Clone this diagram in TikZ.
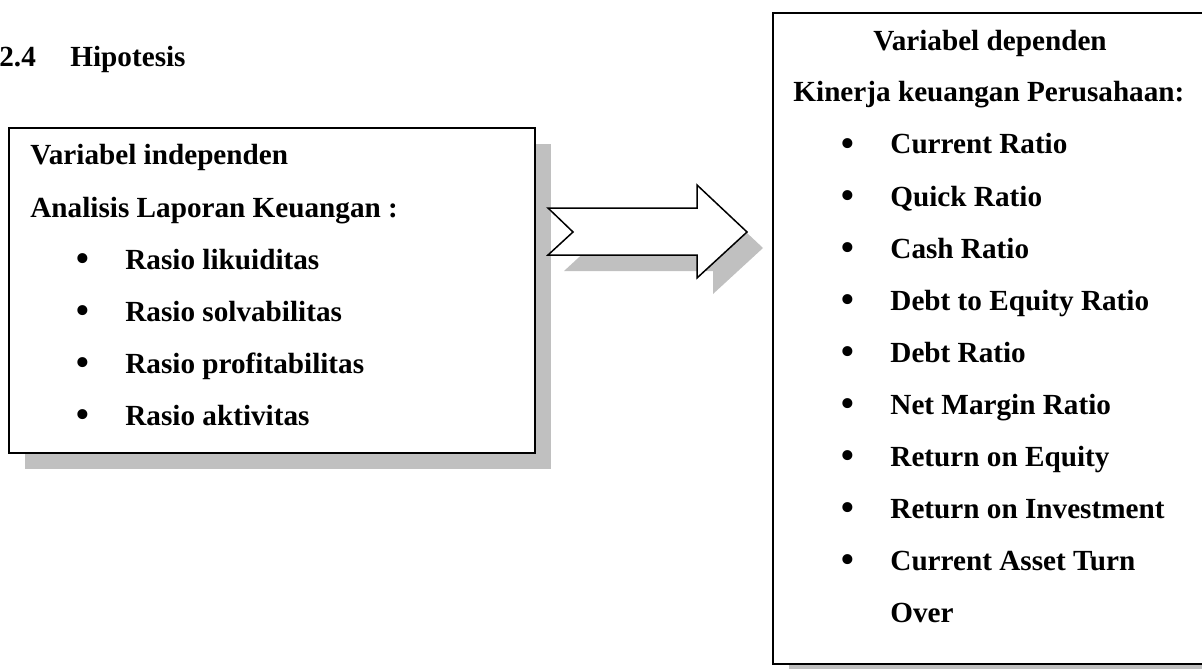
\documentclass[tikz,border=0pt]{standalone}
\usepackage{fontspec}
\setmainfont{Liberation Serif}
\usetikzlibrary{shadows}
\definecolor{shadowgray}{HTML}{C0C0C0}

\begin{document}
\begin{tikzpicture}[x=0.5pt, y=-0.5pt,
  every node/.style={inner sep=0pt, font=\fontsize{14.6}{17}\selectfont\bfseries},
  box/.style={draw, line width=1pt, fill=white, anchor=north west,
    drop shadow={shadow xshift=8pt, shadow yshift=-8pt, fill=shadowgray, opacity=1}},
  line/.style={anchor=base west},
  title line/.style={anchor=base},
  mark dot/.style={anchor=center, font=\fontsize{21}{21}\selectfont}]
\useasboundingbox (0,0) rectangle (1202,668);

% heading
\node[line] (num) at (-1,67) {2.4};
\node[line] (title) at (70,67) {Hipotesis};

% left box
\node[box, minimum width=263pt, minimum height=162.5pt] (indep) at (8,127) {};
\node[line] (indephead) at (30,165) {Variabel independen};
\node[line] (indepsub) at (30,217) {Analisis Laporan Keuangan :};
\node[mark dot] (b1) at (83,263) {\textbullet};
\node[line] (liku) at (125,269) {Rasio likuiditas};
\node[mark dot] (b2) at (83,315) {\textbullet};
\node[line] (solv) at (125,321) {Rasio solvabilitas};
\node[mark dot] (b3) at (83,367) {\textbullet};
\node[line] (prof) at (125,373) {Rasio profitabilitas};
\node[mark dot] (b4) at (83,419) {\textbullet};
\node[line] (akti) at (125,425) {Rasio aktivitas};

% right box
\node[box, minimum width=230pt, minimum height=325.5pt] (dep) at (772,12) {};
\node[title line] (dephead) at (990,51) {Variabel dependen};
\node[line] (depsub) at (793,102) {Kinerja keuangan Perusahaan:};
\node[mark dot] (d1) at (848,148) {\textbullet};
\node[line] (cr) at (890,154) {Current Ratio};
\node[mark dot] (d2) at (848,200) {\textbullet};
\node[line] (qr) at (890,206) {Quick Ratio};
\node[mark dot] (d3) at (848,252) {\textbullet};
\node[line] (cashr) at (890,258) {Cash Ratio};
\node[mark dot] (d4) at (848,304) {\textbullet};
\node[line] (der) at (890,310) {Debt to Equity Ratio};
\node[mark dot] (d5) at (848,356) {\textbullet};
\node[line] (dr) at (890,362) {Debt Ratio};
\node[mark dot] (d6) at (848,408) {\textbullet};
\node[line] (nmr) at (890,414) {Net Margin Ratio};
\node[mark dot] (d7) at (848,460) {\textbullet};
\node[line] (roe) at (890,466) {Return on Equity};
\node[mark dot] (d8) at (848,512) {\textbullet};
\node[line] (roi) at (890,518) {Return on Investment};
\node[mark dot] (d9) at (848,564) {\textbullet};
\node[line] (catr) at (890,570) {Current Asset Turn};
\node[line] (over) at (890,622) {Over};

% block arrow with its shadow
\fill[shadowgray, shift={(16,16)}] (548,208) -- (697,208) -- (697,185) -- (747,232)
  -- (697,278) -- (697,255) -- (548,255) -- (573,232) -- cycle;
\draw[line width=0.75pt, fill=white] (548,208) -- (697,208) -- (697,185) -- (747,232)
  -- (697,278) -- (697,255) -- (548,255) -- (573,232) -- cycle;
\end{tikzpicture}
\end{document}
